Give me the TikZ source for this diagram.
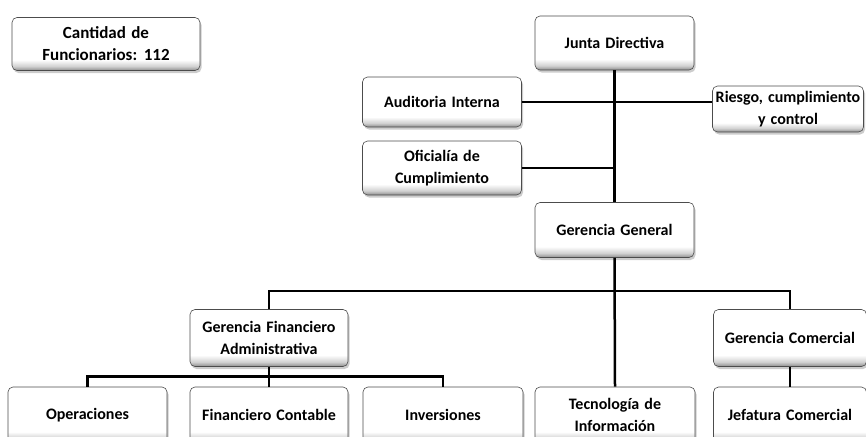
\documentclass[tikz,border=0pt]{standalone}
\usepackage{fontspec}
\setmainfont{Carlito}[WordSpace=1.4]
\usetikzlibrary{
  shadows,
  positioning
}
\pgfdeclareverticalshading{boxshade}{100bp}{color(0bp)=(black!45); color(25bp)=(black!45); color(29bp)=(black!18); color(35bp)=(white); color(100bp)=(white)}

\begin{document}
\begin{tikzpicture}[x=1pt,y=-1pt,
      unit/.style={
         rectangle,
         rounded corners=5pt,
         draw=black!70,
         line width=0.6pt,
         shading=boxshade,
         drop shadow={shadow xshift=1.5pt,shadow yshift=-2.5pt,fill=black!40},
         font=\bfseries\fontsize{16}{22}\selectfont,
         align=center,
         inner sep=2pt
      },
      link/.style={line width=2.5pt,draw=black},
      hv path/.style={to path={-| (\tikztotarget)}},
      vh path/.style={to path={|- (\tikztotarget)}}
    ]
    \useasboundingbox (0,0) rectangle (866,436);
    \clip (0,0) rectangle (866,436);
    % cajas
    \node (cant) [unit, minimum width=188pt, minimum height=53pt, font=\bfseries\fontsize{17}{22}\selectfont] at (106,44) {Cantidad de\\Funcionarios: 112};
    \node (junta) [unit, minimum width=159pt, minimum height=54pt] at (614.5,43) {Junta Directiva};
    \node (audit) [unit, minimum width=159pt, minimum height=50pt] at (442,102) {Auditoria Interna};
    \node (riesgo) [unit, minimum width=151pt, minimum height=46pt] at (788,109) {Riesgo, cumplimiento\\y control};
    \node (ofic) [unit, minimum width=159pt, minimum height=54pt] at (442,168) {Oficialía de\\Cumplimiento};
    \node (gerg) [unit, minimum width=159pt, minimum height=55pt] at (614.5,230) {Gerencia General};
    \node (gfa) [unit, minimum width=158pt, minimum height=57pt] at (269,338) {Gerencia Financiero\\Administrativa};
    \node (gcom) [unit, minimum width=153pt, minimum height=57pt] at (790,338) {Gerencia Comercial};
    \node (oper) [unit, minimum width=159pt, minimum height=56pt] at (87.5,415) {Operaciones};
    \node (fcont) [unit, minimum width=158pt, minimum height=56pt] at (269,415) {Financiero Contable};
    \node (inver) [unit, minimum width=160pt, minimum height=56pt] at (443,415) {Inversiones};
    \node (tec) [unit, minimum width=160pt, minimum height=56pt] at (615,415) {Tecnología de\\Información};
    \node (jef) [unit, minimum width=153pt, minimum height=56pt] at (790,415) {Jefatura Comercial};
    % lineas
    \draw[link] (junta.south) -- (gerg.north);
    \draw[link] (audit.east) -- (audit.east -| riesgo.west);
    \draw[link] (ofic.east) -- (ofic.east -| junta.south);
    \draw[link] (gerg.south) -- (tec.north);
    \draw[link] (gfa.north) -- ++(0,-18) coordinate (busl) to[hv path] (gcom.north);
    \draw[link] (gfa.south) -- (fcont.north);
    \draw[link] (oper.north) -- ++(0,-10) coordinate (busf) to[hv path] (inver.north);
    \draw[link] (gcom.south) -- (jef.north);
\end{tikzpicture}
\end{document}
